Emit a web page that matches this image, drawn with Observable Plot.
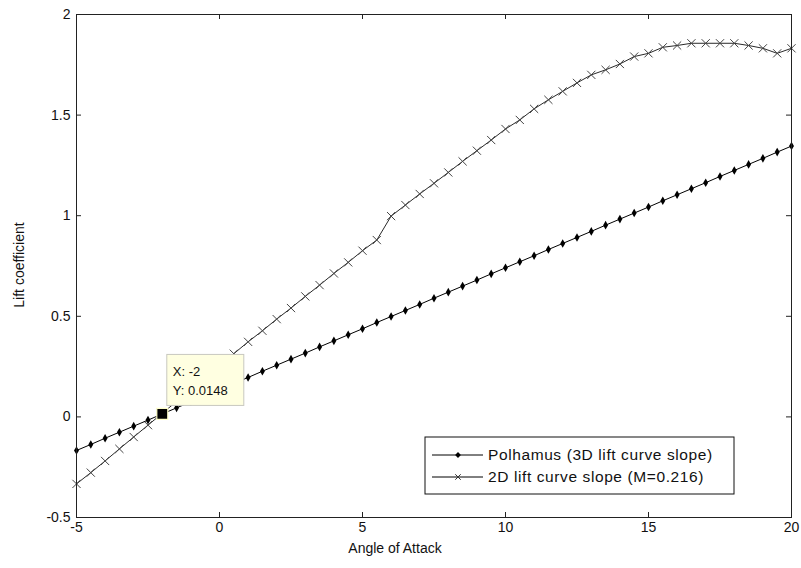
<!DOCTYPE html>
<html>
<head>
<meta charset="utf-8">
<script src="https://cdn.jsdelivr.net/npm/d3@7"></script>
<script src="https://cdn.jsdelivr.net/npm/@observablehq/plot@0.6"></script>
<style>
  body { margin: 0; background: #fff; }
  #chart svg { display: block; font-family: "Liberation Sans", Arial, sans-serif; }
</style>
</head>
<body>
<div id="chart"></div>
<script>
// Angle of attack (degrees), sampled every half degree
const alpha = [
  -5, -4.5, -4, -3.5, -3, -2.5, -2, -1.5, -1, -0.5,
  0, 0.5, 1, 1.5, 2, 2.5, 3, 3.5, 4, 4.5,
  5, 5.5, 6, 6.5, 7, 7.5, 8, 8.5, 9, 9.5,
  10, 10.5, 11, 11.5, 12, 12.5, 13, 13.5, 14, 14.5,
  15, 15.5, 16, 16.5, 17, 17.5, 18, 18.5, 19, 19.5, 20
];

// Polhamus 3D lift coefficient
const clPolhamus = [
  -0.167, -0.137, -0.106, -0.076, -0.046, -0.016, 0.0148, 0.045, 0.075, 0.106,
  0.136, 0.166, 0.196, 0.227, 0.257, 0.287, 0.317, 0.348, 0.378, 0.408,
  0.438, 0.469, 0.499, 0.529, 0.559, 0.590, 0.620, 0.650, 0.680, 0.711,
  0.741, 0.771, 0.801, 0.832, 0.862, 0.892, 0.922, 0.953, 0.983, 1.013,
  1.043, 1.074, 1.104, 1.134, 1.164, 1.195, 1.225, 1.255, 1.285, 1.316, 1.346
];

// 2D section lift coefficient at M = 0.216
const cl2D = [
  -0.333, -0.277, -0.219, -0.159, -0.100, -0.041, 0.018, 0.077, 0.136, 0.195,
  0.255, 0.314, 0.373, 0.428, 0.486, 0.541, 0.599, 0.655, 0.713, 0.768,
  0.826, 0.879, 0.998, 1.053, 1.108, 1.161, 1.215, 1.270, 1.323, 1.376,
  1.431, 1.476, 1.531, 1.576, 1.618, 1.660, 1.700, 1.725, 1.754, 1.791,
  1.807, 1.837, 1.846, 1.857, 1.857, 1.857, 1.857, 1.846, 1.832, 1.807, 1.832
];

const seriesNames = ["Polhamus (3D lift curve slope)", "2D lift curve slope (M=0.216)"];
const xTicks = [-5, 0, 5, 10, 15, 20];
const yTicks = [-0.5, 0, 0.5, 1, 1.5, 2];
const xLabel = "Angle of Attack";
const yLabel = "Lift coefficient";

// Data cursor readout
const tipAlpha = -2;
const tipCL = 0.0148;

const rows = alpha.map((a, i) => ({alpha: a, polhamus: clPolhamus[i], twoD: cl2D[i]}));

const W = 801, H = 568;
const M = {top: 14, right: 10, bottom: 51, left: 76};
const innerW = W - M.left - M.right;
const innerH = H - M.top - M.bottom;
const tickLen = 5;

const fmt = d => String(d);
const font = "'Liberation Sans', Arial, sans-serif";
const axisColor = "#222";

const plot = Plot.plot({
  width: W,
  height: H,
  marginLeft: M.left,
  marginRight: M.right,
  marginTop: M.top,
  marginBottom: M.bottom,
  style: {fontFamily: font, fontSize: "14px", color: "#111", background: "#fff", overflow: "visible"},
  x: {domain: [-5, 20]},
  y: {domain: [-0.5, 2]},
  marks: [
    // 2D curve with x markers
    Plot.line(rows, {x: "alpha", y: "twoD", stroke: "#111", strokeWidth: 0.9}),
    Plot.dot(rows, {x: "alpha", y: "twoD", symbol: "times", r: 3.8, stroke: "#444", strokeWidth: 1}),
    // Polhamus curve with filled diamonds
    Plot.line(rows, {x: "alpha", y: "polhamus", stroke: "#000", strokeWidth: 1}),
    Plot.dot(rows, {x: "alpha", y: "polhamus", symbol: "diamond", r: 2.6, fill: "#000"}),
    // Box with inward ticks on all four sides
    Plot.frame({stroke: axisColor, strokeWidth: 1}),
    Plot.tickX(xTicks, {x: d => d, stroke: axisColor, insetTop: innerH - tickLen}),
    Plot.tickX(xTicks, {x: d => d, stroke: axisColor, insetBottom: innerH - tickLen}),
    Plot.tickY(yTicks, {y: d => d, stroke: axisColor, insetRight: innerW - tickLen}),
    Plot.tickY(yTicks, {y: d => d, stroke: axisColor, insetLeft: innerW - tickLen}),
    Plot.axisX({anchor: "bottom", ticks: xTicks, tickSize: 0, tickPadding: 5, tickFormat: fmt, label: null}),
    Plot.axisY({anchor: "left", ticks: yTicks, tickSize: 0, tickPadding: 6, tickFormat: fmt, label: null}),
    // Data cursor marker
    Plot.dot([{a: tipAlpha, cl: tipCL}], {x: "a", y: "cl", symbol: "square", r: 6.2, fill: "#000", stroke: "#ffffc8", strokeWidth: 1.2})
  ]
});

document.getElementById("chart").appendChild(plot);

const svg = d3.select(plot);
const sx = plot.scale("x");
const sy = plot.scale("y");

// Axis titles
svg.append("text")
  .attr("x", 395).attr("y", 553)
  .attr("text-anchor", "middle")
  .attr("font-size", 14).attr("fill", "#111")
  .text(xLabel);
svg.append("text")
  .attr("transform", "translate(24,265) rotate(-90)")
  .attr("text-anchor", "middle")
  .attr("font-size", 14).attr("fill", "#111")
  .text(yLabel);

// Data cursor readout box
const px = sx.apply(tipAlpha), py = sy.apply(tipCL);
const tip = svg.append("g").attr("transform", `translate(${px + 5},${py - 59})`).attr("text-anchor", "start");
tip.append("rect")
  .attr("width", 77).attr("height", 51)
  .attr("fill", "#ffffe1").attr("stroke", "#c8c8c0").attr("stroke-width", 1);
tip.append("text").attr("x", 6).attr("y", 22).attr("font-size", 13).attr("fill", "#111").text(`X: ${tipAlpha}`);
tip.append("text").attr("x", 6).attr("y", 41).attr("font-size", 13).attr("fill", "#111").text(`Y: ${tipCL}`);

// Legend
const lg = svg.append("g").attr("transform", "translate(425,437)").attr("text-anchor", "start");
lg.append("rect").attr("width", 309).attr("height", 57)
  .attr("fill", "#fff").attr("stroke", "#111").attr("stroke-width", 1);
const legendRows = [
  {name: seriesNames[0], symbol: d3.symbolDiamond2, size: 2.6 * 2.6 * Math.PI, fill: "#000", stroke: "none"},
  {name: seriesNames[1], symbol: d3.symbolTimes, size: 2.6 * 2.6 * Math.PI, fill: "none", stroke: "#333"}
];
legendRows.forEach((r, i) => {
  const y = 18 + i * 22;
  lg.append("line").attr("x1", 7).attr("x2", 58).attr("y1", y).attr("y2", y).attr("stroke", "#000");
  lg.append("path").attr("d", d3.symbol(r.symbol, r.size)())
    .attr("transform", `translate(33,${y})`)
    .attr("fill", r.fill).attr("stroke", r.stroke);
  lg.append("text").attr("x", 63).attr("y", y).attr("dy", "0.35em")
    .attr("font-size", 15.5).attr("letter-spacing", "0.6px").attr("fill", "#111").text(r.name);
});
</script>
</body>
</html>
